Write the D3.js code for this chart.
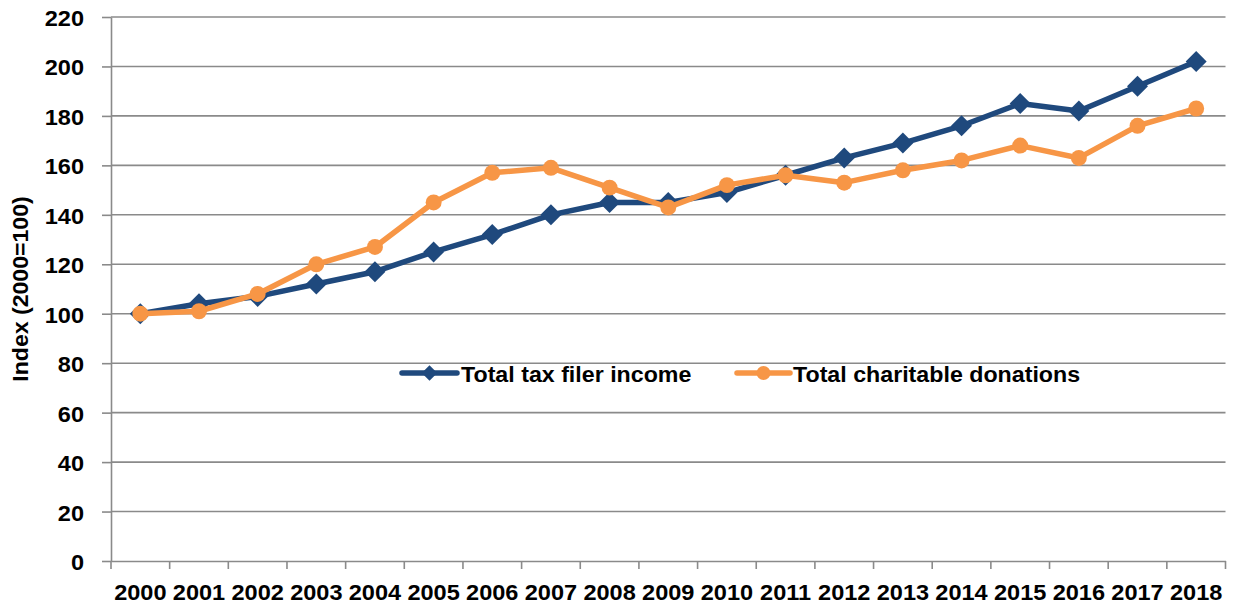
<!DOCTYPE html>
<html>
<head>
<meta charset="utf-8">
<script src="https://cdn.jsdelivr.net/npm/d3@7"></script>
<style>
  body { margin: 0; background: #fff; }
  svg text { font-family: "Liberation Sans", Arial, sans-serif; font-weight: bold; fill: #000; }
</style>
</head>
<body>
<svg id="chart" width="1235" height="610"></svg>
<script>
// Index values, 2000 = 100
const years = ["2000","2001","2002","2003","2004","2005","2006","2007","2008","2009",
               "2010","2011","2012","2013","2014","2015","2016","2017","2018"];
const incomeIndex    = [100,104,107,112,117,125,132,140,145,145,149,156,163,169,176,185,182,192,202];
const donationsIndex = [100,101,108,120,127,145,157,159,151,143,152,156,153,158,162,168,163,176,183];
const yTicks = [0,20,40,60,80,100,120,140,160,180,200,220];
const seriesNames = ["Total tax filer income", "Total charitable donations"];
const yTitle = "Index (2000=100)";

const colors = { income: "#1F497D", donations: "#F79646", grid: "#8a8a8a" };
const textStretch = "scale(1.07,1)";

const svg = d3.select("#chart");
const plot = { left: 111, right: 1225.5, top: 17, bottom: 561 };

const x = d3.scaleBand().domain(years).range([plot.left, plot.right]);
const y = d3.scaleLinear().domain([0, 220]).range([plot.bottom, plot.top]);

// horizontal gridlines
svg.append("g")
  .selectAll("line")
  .data(yTicks.filter(t => t > 0))
  .join("line")
  .attr("x1", plot.left).attr("x2", plot.right)
  .attr("y1", d => y(d)).attr("y2", d => y(d))
  .attr("stroke", colors.grid).attr("stroke-width", 1.6);

// y axis
const yAxis = svg.append("g")
  .attr("transform", `translate(${plot.left},0)`)
  .call(d3.axisLeft(y).tickValues(yTicks).tickSize(9).tickSizeOuter(0));
yAxis.select(".domain").attr("stroke", colors.grid).attr("stroke-width", 1.6);
yAxis.selectAll(".tick line").attr("stroke", colors.grid).attr("stroke-width", 1.6);
yAxis.selectAll(".tick text")
  .attr("x", null).attr("dy", null)
  .attr("transform", `translate(-27,8.5) ${textStretch}`)
  .attr("text-anchor", "end")
  .style("font-size", "22px");

// x axis: labels centred in each band, tick marks on band boundaries
const xAxis = svg.append("g")
  .attr("transform", `translate(0,${plot.bottom})`)
  .call(d3.axisBottom(x).tickSize(0).tickSizeOuter(0));
xAxis.select(".domain").attr("stroke", colors.grid).attr("stroke-width", 1.6);
xAxis.selectAll(".tick text")
  .attr("y", null).attr("dy", null)
  .attr("transform", `translate(0,39) ${textStretch}`)
  .style("font-size", "22px");

const boundaries = years.map(d => x(d)).concat([x.range()[1]]);
xAxis.append("g")
  .selectAll("line")
  .data(boundaries)
  .join("line")
  .attr("x1", d => d).attr("x2", d => d)
  .attr("y1", 0).attr("y2", 8)
  .attr("stroke", colors.grid).attr("stroke-width", 1.6);

// y axis title
svg.append("text")
  .attr("transform", `translate(28,289) rotate(-90) scale(1.05,1)`)
  .attr("text-anchor", "middle")
  .style("font-size", "22px")
  .text(yTitle);

// series
const cx = (d, i) => x(years[i]) + x.bandwidth() / 2;
const line = d3.line().x(cx).y(d => y(d));
const diamond = d3.symbol(d3.symbolSquare, 220);
const dot = d3.symbol(d3.symbolCircle, 200);

function drawSeries(values, color, symbolGen, rotate) {
  const g = svg.append("g");
  g.append("path")
    .datum(values)
    .attr("d", line)
    .attr("fill", "none")
    .attr("stroke", color)
    .attr("stroke-width", 5.5)
    .attr("stroke-linejoin", "round");
  g.selectAll("path.marker")
    .data(values)
    .join("path")
    .attr("class", "marker")
    .attr("d", symbolGen)
    .attr("transform", (d, i) => `translate(${cx(d, i)},${y(d)}) rotate(${rotate})`)
    .attr("fill", color);
}

drawSeries(incomeIndex, colors.income, diamond, 45);
drawSeries(donationsIndex, colors.donations, dot, 0);

// legend
const legendY = 373;
const legend = [
  { name: seriesNames[0], color: colors.income, sym: d3.symbol(d3.symbolSquare, 120), rot: 45, x0: 402, x1: 457, tx: 461 },
  { name: seriesNames[1], color: colors.donations, sym: d3.symbol(d3.symbolCircle, 150), rot: 0, x0: 737, x1: 790, tx: 793 }
];
const lg = svg.append("g").selectAll("g").data(legend).join("g");
lg.append("line")
  .attr("x1", d => d.x0).attr("x2", d => d.x1)
  .attr("y1", legendY).attr("y2", legendY)
  .attr("stroke", d => d.color).attr("stroke-width", 5.5).attr("stroke-linecap", "round");
lg.append("path")
  .attr("d", d => d.sym())
  .attr("transform", d => `translate(${(d.x0 + d.x1) / 2},${legendY}) rotate(${d.rot})`)
  .attr("fill", d => d.color);
lg.append("text")
  .attr("transform", d => `translate(${d.tx},381.5) scale(1.055,1)`)
  .style("font-size", "22px")
  .text(d => d.name);
</script>
</body>
</html>
